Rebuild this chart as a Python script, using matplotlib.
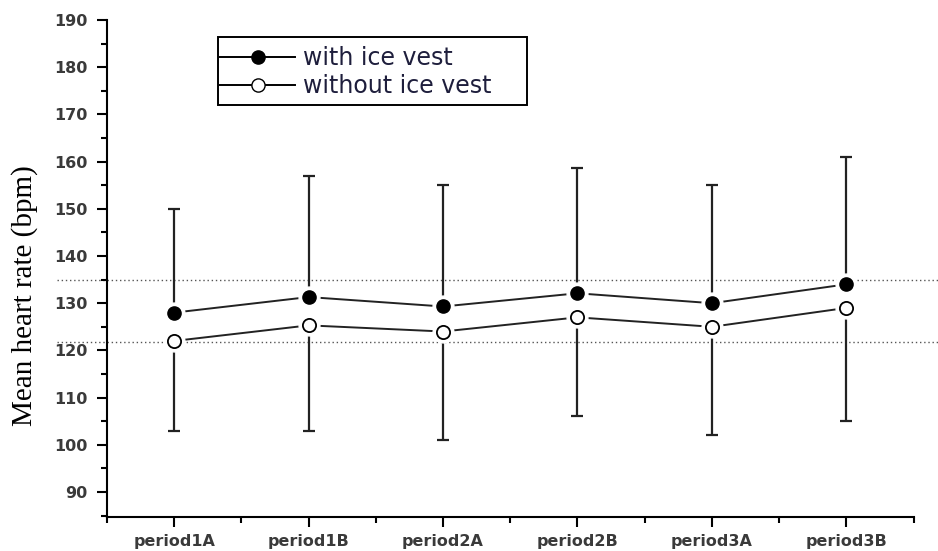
import numpy as np
import matplotlib
matplotlib.use("Agg")
import matplotlib.pyplot as plt
from matplotlib.ticker import MultipleLocator
from matplotlib.lines import Line2D
from matplotlib.patches import Rectangle

periods = ["period1A", "period1B", "period2A", "period2B", "period3A", "period3B"]
with_vest = [128, 131.3, 129.3, 132.1, 130, 134]
with_vest_upper = [150, 157, 155, 158.6, 155, 161]
without_vest = [122, 125.3, 124, 127, 125, 129]
without_vest_lower = [103, 103, 101, 106, 102, 105]
ref_lines = [135, 121.8]


def plot_chart():
    fig = plt.figure(figsize=(9.38, 5.51), dpi=100)
    ax = fig.add_axes([0.114, 0.0617, 0.860, 0.902])

    x = np.arange(len(periods))
    with_vest_a = np.array(with_vest)
    without_vest_a = np.array(without_vest)

    # one sided error bars: up for with vest, down for without vest
    ax.errorbar(x, with_vest_a, yerr=[np.zeros(len(x)), np.array(with_vest_upper) - with_vest_a],
                fmt="none", ecolor="#222222", elinewidth=1.6, capsize=4, capthick=1.6, zorder=2)
    ax.errorbar(x, without_vest_a, yerr=[without_vest_a - np.array(without_vest_lower), np.zeros(len(x))],
                fmt="none", ecolor="#222222", elinewidth=1.6, capsize=4, capthick=1.6, zorder=2)

    ax.plot(x, with_vest_a, color="#222222", lw=1.4, zorder=3)
    ax.plot(x, without_vest_a, color="#222222", lw=1.4, zorder=3)
    # white halo so lines stop short of the markers
    ax.plot(x, with_vest_a, "o", ms=15, color="white", mec="white", zorder=4)
    ax.plot(x, without_vest_a, "o", ms=15, color="white", mec="white", zorder=4)
    ax.plot(x, with_vest_a, "o", ms=9.5, mfc="black", mec="black", zorder=5)
    ax.plot(x, without_vest_a, "o", ms=9.5, mfc="white", mec="black", mew=1.3, zorder=5)

    for v in ref_lines:
        ax.plot([-0.062, 1.04], [v, v], transform=ax.get_yaxis_transform(),
                ls=(0, (1, 2)), color="#555555", lw=1.0, clip_on=False, zorder=1)

    ax.set_xlim(-0.5, 5.5)
    ax.set_ylim(84.7, 190)
    ax.set_xticks(x)
    ax.set_xticklabels(periods)
    ax.set_xticks(np.arange(-0.5, 5.6, 1), minor=True)
    ax.set_yticks(np.arange(90, 191, 10))
    ax.yaxis.set_minor_locator(MultipleLocator(5))
    for lab in ax.get_yticklabels() + ax.get_xticklabels():
        lab.set_fontfamily("DejaVu Sans")
        lab.set_fontsize(11.5)
        lab.set_fontweight("bold")
        lab.set_color("#3a3a3a")

    ax.tick_params(axis="both", which="major", direction="out", length=7, width=1.5)
    ax.tick_params(axis="both", which="minor", direction="out", length=4, width=1.5)
    ax.tick_params(axis="y", pad=7)
    ax.tick_params(axis="x", pad=5)

    ax.spines["top"].set_visible(False)
    ax.spines["right"].set_visible(False)
    ax.spines["left"].set_linewidth(1.5)
    ax.spines["bottom"].set_linewidth(1.5)

    ax.set_ylabel("Mean heart rate (bpm)", fontfamily="Liberation Serif", fontsize=21)
    ax.yaxis.set_label_coords(-0.086, 0.445)

    handles = [
        Line2D([], [], color="black", lw=1.4, marker="o", ms=9.5, mfc="black", mec="black"),
        Line2D([], [], color="black", lw=1.4, marker="o", ms=9.5, mfc="white", mec="black"),
    ]
    leg = ax.legend(handles, ["with ice vest", "without ice vest"], loc="upper left",
                    bbox_to_anchor=(0.14, 0.948),
                    prop={"family": "DejaVu Sans", "size": 17},
                    frameon=False, handlelength=3.2,
                    handletextpad=0.3, borderpad=0, labelspacing=0.18, borderaxespad=0)
    for t in leg.get_texts():
        t.set_color("#1e1e3c")
    # legend box drawn separately (wider right margin like the original)
    ax.add_patch(Rectangle((0.1375, 0.829), 0.383, 0.137, transform=ax.transAxes,
                           fill=False, edgecolor="black", lw=1.4, clip_on=False, zorder=6))

    fig.savefig("out.png", dpi=100)


if __name__ == "__main__":
    plot_chart()
